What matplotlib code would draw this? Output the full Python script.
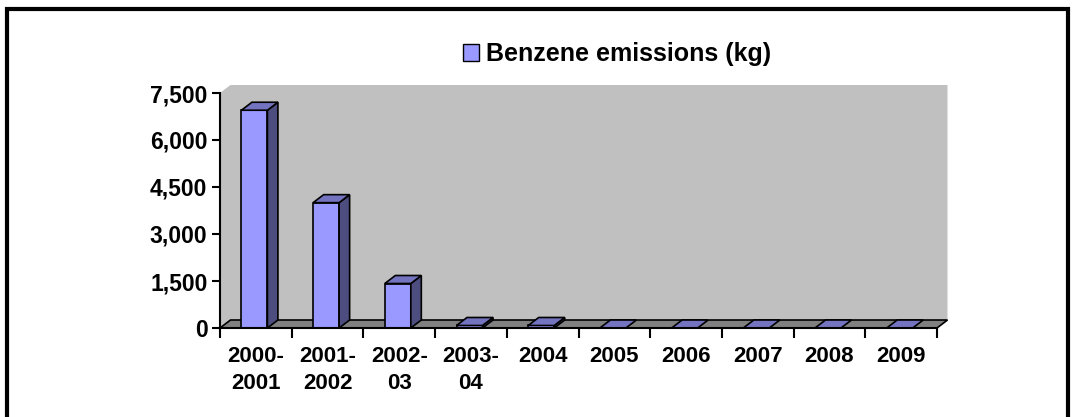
import matplotlib
matplotlib.use('Agg')
import matplotlib.pyplot as plt
import matplotlib.patches as patches
from matplotlib.patches import Patch

# data
years = ['2000-\n2001', '2001-\n2002', '2002-\n03', '2003-\n04', '2004',
         '2005', '2006', '2007', '2008', '2009']
benzene = [6950, 4000, 1420, 80, 80, 0, 0, 0, 0, 0]
yTicks = [0, 1500, 3000, 4500, 6000, 7500]

plt.rcParams['font.family'] = ['Liberation Sans', 'DejaVu Sans']
plt.rcParams['font.weight'] = 'bold'

fig = plt.figure(figsize=(10.75, 4.17), dpi=100)
ax = fig.add_axes([220 / 1075, 89 / 417, 717 / 1075, 235 / 417])
ax.set_xlim(0, len(years))
ax.set_ylim(0, 7500)

# depth of the fake 3d box in data units
ddx = 10.5 / 71.7
ddy = 8 / 235 * 7500

front = '#9999FF'
side = '#4D4D80'
top = '#7373BF'
n = len(years)

# side wall + back wall
wall = patches.Polygon([(0, 0), (ddx, ddy), (n + ddx, ddy), (n + ddx, 7500 + ddy),
                        (ddx, 7500 + ddy), (0, 7500)], closed=True,
                       facecolor='#C0C0C0', edgecolor='none', clip_on=False, zorder=0)
ax.add_patch(wall)
floor = patches.Polygon([(0, 0), (n, 0), (n + ddx, ddy), (ddx, ddy)], closed=True,
                        facecolor='#808080', edgecolor='black', linewidth=1.2,
                        clip_on=False, zorder=1)
ax.add_patch(floor)

bw = 26 / 71.7
for i, v in enumerate(benzene):
    x0 = i + 0.48 - bw / 2
    x1 = x0 + bw
    kw = dict(edgecolor='black', linewidth=1.2, clip_on=False, zorder=2)
    if v > 0:
        ax.add_patch(patches.Polygon([(x0, 0), (x1, 0), (x1, v), (x0, v)], facecolor=front, **kw))
        ax.add_patch(patches.Polygon([(x1, 0), (x1 + ddx, ddy), (x1 + ddx, v + ddy), (x1, v)],
                                     facecolor=side, **kw))
    ax.add_patch(patches.Polygon([(x0, v), (x1, v), (x1 + ddx, v + ddy), (x0 + ddx, v + ddy)],
                                 facecolor=top, **kw))

for s in ['top', 'right']:
    ax.spines[s].set_visible(False)
for s in ['left', 'bottom']:
    ax.spines[s].set_linewidth(1.5)
    ax.spines[s].set_zorder(3)
ax.set_facecolor('none')

ax.set_yticks(yTicks)
ax.set_yticklabels(['{:,}'.format(t) for t in yTicks])
ax.tick_params(axis='y', length=6, width=1.5, pad=3, labelsize=16.5)
ax.set_xticks(range(n + 1))
ax.set_xticklabels([])
ax.tick_params(axis='x', which='major', length=7, width=1.5)
ax.set_xticks([i + 0.5 for i in range(n)], minor=True)
ax.set_xticklabels(years, minor=True, linespacing=1.4)
ax.tick_params(axis='x', which='minor', length=0, pad=13, labelsize=16)

leg = fig.legend(handles=[Patch(facecolor=front, edgecolor='black', linewidth=1)],
                 labels=['Benzene emissions (kg)'], loc='center',
                 bbox_to_anchor=(617 / 1075, 1 - 54 / 417), frameon=False,
                 handlelength=0.65, handleheight=0.65, handletextpad=0.3,
                 prop={'size': 18, 'weight': 'bold'})

# outer frame (bottom edge runs off the picture)
frame = patches.Rectangle((7 / 1075, -0.05), 1061 / 1075, 1 - 9 / 417 + 0.05,
                          transform=fig.transFigure, fill=False, edgecolor='black',
                          linewidth=3, clip_on=False)
fig.patches.append(frame)

fig.savefig('out.png', dpi=100)
